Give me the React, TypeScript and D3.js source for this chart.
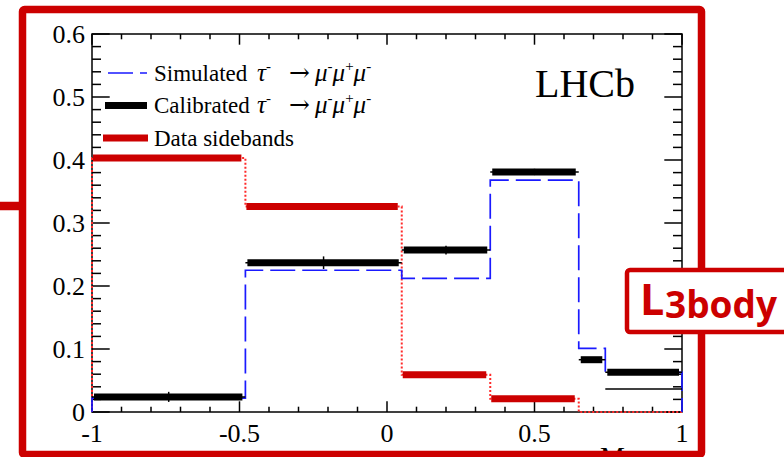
import React from 'react';
import * as d3 from 'd3';

const binEdges = [-1, -0.48, 0.05, 0.35, 0.65, 0.74, 1];
const simulated = [0.022, 0.225, 0.212, 0.368, 0.101, 0.063];
const calibrated = [0.024, 0.237, 0.257, 0.381, 0.083, 0.063];
const calibratedErr = [0.008, 0.010, 0.007, 0.005, 0.004, 0.004];
const calibratedThin: (number | null)[] = [null, null, null, null, null, 0.0365];
const sidebands = [0.403, 0.326, 0.059, 0.021, 0, 0];
const xTicks = [-1, -0.5, 0, 0.5, 1];
const xTickLabels = ['-1', '-0.5', '0', '0.5', '1'];
const yTicks = [0, 0.1, 0.2, 0.3, 0.4, 0.5, 0.6];
const yTickLabels = ['0', '0.1', '0.2', '0.3', '0.4', '0.5', '0.6'];
const legendLabels = ['Simulated', 'Calibrated', 'Data sidebands'];

const W = 784, H = 457;
const RED = '#cc0000';
const DOT_RED = '#ff2a2a';
const BLUE = '#1a1aff';
const SERIF = '"Liberation Serif", "Times New Roman", serif';
const SANS = '"Open Sans", "Noto Sans", sans-serif';

const x = d3.scaleLinear().domain([-1, 1]).range([92, 682]);
const y = d3.scaleLinear().domain([0, 0.6]).range([412, 34]);

function stepPoints(vals: number[]): [number, number][] {
  const pts: [number, number][] = [[binEdges[0], 0]];
  vals.forEach((v, i) => {
    pts.push([binEdges[i], v]);
    pts.push([binEdges[i + 1], v]);
  });
  pts.push([binEdges[binEdges.length - 1], 0]);
  return pts;
}

const line = d3.line<[number, number]>().x(d => x(d[0])).y(d => y(d[1]));

function Decay({ base }: { base: number }) {
  const sup = (s: string) => <tspan fontSize={15} y={base - 10}>{s}</tspan>;
  return (
    <>
      <tspan x={257} y={base} fontSize={25} fontStyle="italic">τ</tspan>
      {sup('-')}
      <tspan x={289} y={base} fontSize={25} fontFamily='"DejaVu Serif", serif'>→</tspan>
      <tspan x={315} y={base} fontSize={25} fontStyle="italic">μ</tspan>
      {sup('-')}
      <tspan y={base} fontSize={25} fontStyle="italic">μ</tspan>
      {sup('+')}
      <tspan y={base} fontSize={25} fontStyle="italic">μ</tspan>
      {sup('-')}
    </>
  );
}

export default function App() {
  const yMinor = d3.range(0, 0.6001, 0.02);
  const xMinor = d3.range(-1, 1.0001, 0.1);
  const x0 = x.range()[0], x1 = x.range()[1];
  const y0 = y.range()[0], y1 = y.range()[1];

  const legendY = [73, 105.5, 138];
  const legendBase = [80.5, 112.5, 146];

  return (
    <svg width={W} height={H} style={{ position: 'absolute', left: 0, top: 0 }}>
      <rect x={0} y={0} width={W} height={H} fill="#fff" />

      {/* axes frame */}
      <rect x={x0} y={y1} width={x1 - x0} height={y0 - y1} fill="none" stroke="#000" strokeWidth={1.5} />
      {yMinor.map((t, i) => {
        const major = i % 5 === 0;
        const len = major ? 17.7 : 9;
        return (
          <g key={'ym' + i}>
            <line x1={x0} x2={x0 + len} y1={y(t)} y2={y(t)} stroke="#000" strokeWidth={1.5} />
            <line x1={x1} x2={x1 - len} y1={y(t)} y2={y(t)} stroke="#000" strokeWidth={1.5} />
          </g>
        );
      })}
      {xMinor.map((t, i) => {
        const major = i % 5 === 0;
        const len = major ? 10.7 : 5.3;
        return (
          <g key={'xm' + i}>
            <line x1={x(t)} x2={x(t)} y1={y0} y2={y0 - len} stroke="#000" strokeWidth={1.5} />
            <line x1={x(t)} x2={x(t)} y1={y1} y2={y1 + len} stroke="#000" strokeWidth={1.5} />
          </g>
        );
      })}
      {yTicks.map((t, i) => (
        <text key={'yl' + i} x={x0 - 7} y={y(t) + 9} fontSize={26} fontFamily={SERIF} textAnchor="end" fill="#000">
          {yTickLabels[i]}
        </text>
      ))}
      {xTicks.map((t, i) => (
        <text key={'xl' + i} x={x(t)} y={y0 + 30} fontSize={26} fontFamily={SERIF} textAnchor="middle" fill="#000">
          {xTickLabels[i]}
        </text>
      ))}
      <text x={600} y={466} fontSize={28} fontFamily={SERIF} fill="#000">M</text>

      {/* sidebands: dotted outline + thick bars */}
      <path d={line(stepPoints(sidebands)) || ''} fill="none" stroke={DOT_RED} strokeWidth={2} strokeDasharray="2,2" />
      {sidebands.map((v, i) => v > 0 ? (
        <line key={'rb' + i} x1={x(binEdges[i]) + 1} x2={x(binEdges[i + 1]) - 4} y1={y(v)} y2={y(v)} stroke={RED} strokeWidth={7} />
      ) : null)}

      {/* simulated: dashed step */}
      <path d={line(stepPoints(simulated)) || ''} fill="none" stroke={BLUE} strokeWidth={1.7} strokeDasharray="25,7" />

      {/* calibrated */}
      {calibrated.map((v, i) => (
        <g key={'cb' + i}>
          <line x1={x(binEdges[i])} x2={x(binEdges[i + 1])} y1={y(v)} y2={y(v)} stroke="#000" strokeWidth={1.5} />
          <line x1={x(binEdges[i]) + 2} x2={x(binEdges[i + 1]) - 3} y1={y(v)} y2={y(v)} stroke="#000" strokeWidth={7} />
          <line x1={x((binEdges[i] + binEdges[i + 1]) / 2)} x2={x((binEdges[i] + binEdges[i + 1]) / 2)} y1={y(v - calibratedErr[i])} y2={y(v + calibratedErr[i])} stroke="#000" strokeWidth={1.5} />
        </g>
      ))}
      {calibratedThin.map((v, i) => v !== null ? (
        <line key={'ct' + i} x1={x(binEdges[i])} x2={x(binEdges[i + 1])} y1={y(v)} y2={y(v)} stroke="#000" strokeWidth={1.5} />
      ) : null)}

      {/* legend */}
      <line x1={108} x2={147} y1={legendY[0]} y2={legendY[0]} stroke={BLUE} strokeWidth={1.7} strokeDasharray="25,7" />
      <line x1={105} x2={147} y1={legendY[1]} y2={legendY[1]} stroke="#000" strokeWidth={7} />
      <line x1={103} x2={148} y1={legendY[2]} y2={legendY[2]} stroke={RED} strokeWidth={7} />
      <text x={154} y={legendBase[0]} fontSize={23} fontFamily={SERIF} fill="#000">{legendLabels[0]}<Decay base={legendBase[0]} /></text>
      <text x={154} y={legendBase[1]} fontSize={23} fontFamily={SERIF} fill="#000">{legendLabels[1]}<Decay base={legendBase[1]} /></text>
      <text x={154} y={legendBase[2]} fontSize={23} fontFamily={SERIF} fill="#000">{legendLabels[2]}</text>

      <text x={535} y={97} fontSize={40} fontFamily={SERIF} fill="#000">LHCb</text>

      {/* slide overlay */}
      <rect x={22.5} y={9.5} width={679} height={445} fill="none" stroke={RED} strokeWidth={7.5} rx={2} />
      <line x1={0} x2={20} y1={206} y2={206} stroke={RED} strokeWidth={8.5} />
      <rect x={627} y={270} width={200} height={62} fill="#fff" stroke={RED} strokeWidth={4.5} rx={3} />
      <text x={640} y={315} fontSize={43} fontWeight={700} fontFamily={SANS} fill={RED}>L</text>
      <text x={665} y={318} fontSize={37} fontWeight={700} fontFamily={SANS} fill={RED}>3body</text>
    </svg>
  );
}
